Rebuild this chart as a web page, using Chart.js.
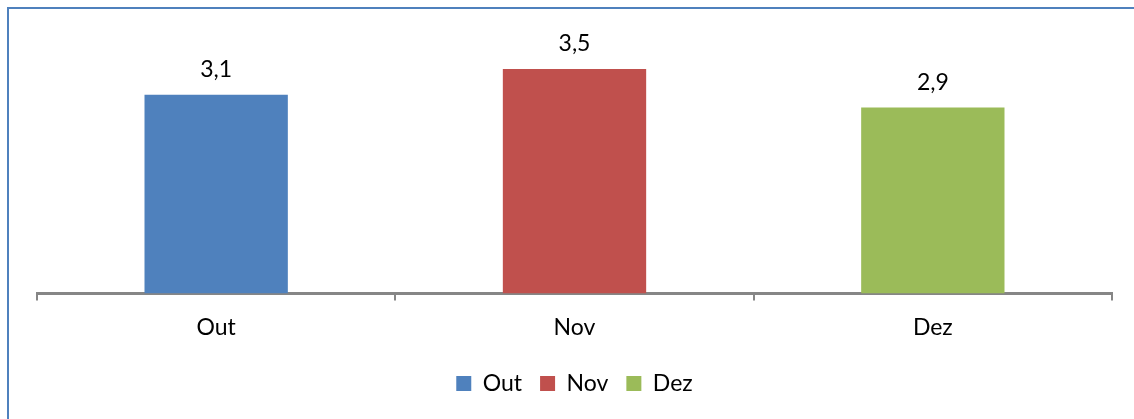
<!DOCTYPE html>
<html>
<head>
<meta charset="utf-8">
<script src="https://cdn.jsdelivr.net/npm/chart.js@4"></script>
<style>
html,body{margin:0;padding:0;background:#fff;}
#wrap{position:relative;width:1134px;height:419px;}
</style>
</head>
<body>
<div id="wrap"><canvas id="c" width="1134" height="419"></canvas></div>
<script>
const categories = ['Out', 'Nov', 'Dez'];
const values = [3.1, 3.5, 2.9];
const colors = ['#4F81BD', '#C0504D', '#9BBB59'];
const yMin = 0;
const yMax = 4;

const FONT = 'Lato, "Open Sans", sans-serif';

const frame = {
  id: 'frame',
  beforeDraw(chart) {
    const ctx = chart.ctx;
    ctx.save();
    ctx.fillStyle = '#fff';
    ctx.fillRect(0, 0, chart.width, chart.height);
    ctx.fillStyle = '#4F81BD';
    ctx.fillRect(7, 7, chart.width - 7, 2);
    ctx.fillRect(7, 7, 2, chart.height - 7);
    ctx.restore();
  }
};

const valueLabels = {
  id: 'valueLabels',
  afterDatasetsDraw(chart) {
    const ctx = chart.ctx;
    const meta = chart.getDatasetMeta(0);
    ctx.save();
    ctx.font = '23px ' + FONT;
    ctx.fillStyle = '#000';
    ctx.textAlign = 'center';
    ctx.textBaseline = 'alphabetic';
    meta.data.forEach((bar, i) => {
      const v = chart.data.datasets[0].data[i];
      ctx.fillText(v.toFixed(1).replace('.', ','), bar.x, bar.y - 18);
    });
    ctx.restore();
  }
};

new Chart(document.getElementById('c'), {
  type: 'bar',
  data: {
    labels: categories,
    datasets: [{
      label: 'Série',
      data: values,
      backgroundColor: colors,
      borderWidth: 0,
      categoryPercentage: 1,
      barPercentage: 0.4
    }]
  },
  options: {
    responsive: false,
    animation: false,
    events: [],
    layout: { padding: { top: 37, left: 37, right: 22, bottom: 14 } },
    scales: {
      x: {
        grid: {
          display: true,
          offset: true,
          drawOnChartArea: false,
          drawTicks: true,
          tickLength: 7,
          color: '#868686',
          lineWidth: 2
        },
        border: { display: true, color: '#868686', width: 3 },
        ticks: {
          color: '#000',
          font: { family: FONT, size: 23 },
          padding: 13
        }
      },
      y: {
        display: false,
        min: yMin,
        max: yMax
      }
    },
    plugins: {
      tooltip: { enabled: false },
      legend: {
        position: 'bottom',
        labels: {
          boxWidth: 15,
          boxHeight: 15,
          padding: 18,
          color: '#000',
          font: { family: FONT, size: 23 },
          generateLabels(chart) {
            return categories.map((c, i) => ({
              text: c,
              fillStyle: colors[i],
              strokeStyle: colors[i],
              lineWidth: 0,
              hidden: false,
              index: i
            }));
          }
        }
      }
    }
  },
  plugins: [frame, valueLabels]
});
</script>
</body>
</html>
